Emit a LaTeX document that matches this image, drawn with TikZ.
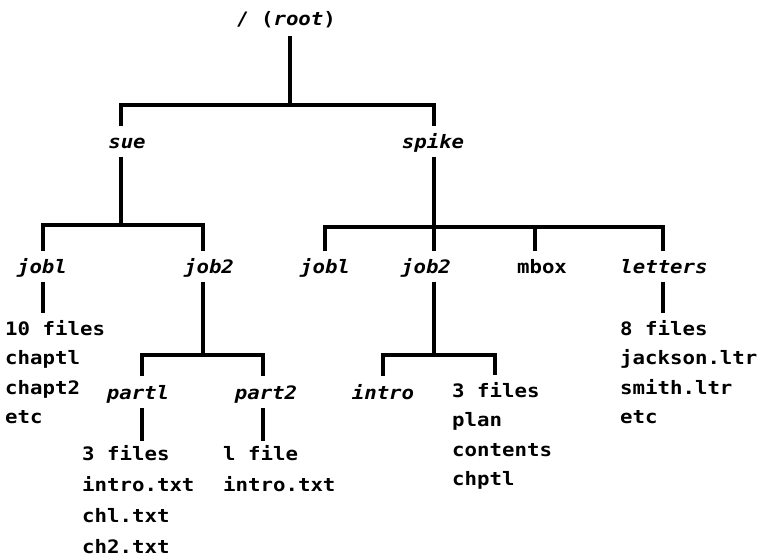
\documentclass[tikz,border=0pt]{standalone}
\usepackage{fontspec}
\setmainfont[FakeStretch=1.12,UprightFont={DejaVu Sans Mono Bold},ItalicFont={DejaVu Sans Mono Bold Oblique},BoldFont={DejaVu Sans Mono Bold}]{DejaVu Sans Mono}
\newcommand\treesz{\fontsize{18.5pt}{22pt}\selectfont}
\begin{document}
\begin{tikzpicture}[x=1pt,y=-1pt,
  tree/.style={line width=4pt,line join=miter,line cap=butt},
  lab/.style={font=\treesz,text height=13.5pt,text depth=0pt,inner xsep=0pt,inner ysep=8.5pt,anchor=base},
  dirlab/.style={lab,font=\treesz\itshape},
  flist/.style={font=\treesz,text height=13.5pt,text depth=0pt,inner xsep=0pt,inner ysep=8.5pt,anchor=base west}]
\useasboundingbox (0,0) rectangle (762,558);
% labels
\node[lab,inner ysep=11pt] (root) at (286,25) {/ ({\itshape root})};
\node[dirlab] (sue) at (127,148) {sue};
\node[dirlab] (spike) at (433,148) {spike};
\node[dirlab] (sj1) at (42,273) {jobl};
\node[dirlab] (sj2) at (209,273) {job2};
\node[dirlab] (pj1) at (325,273) {jobl};
\node[dirlab] (pj2) at (426,273) {job2};
\node[lab] (mbox) at (542,273) {mbox};
\node[dirlab] (letters) at (664,273) {letters};
\node[dirlab,inner ysep=9pt] (part1) at (138,399) {partl};
\node[dirlab,inner ysep=9pt] (part2) at (266,399) {part2};
\node[dirlab,inner ysep=9pt] (intro) at (383,399) {intro};
% file lists
\node[flist] (l1a) at (5,335) {10 files};
\node[flist] (l1b) at (5,364.5) {chaptl};
\node[flist] (l1c) at (5,394) {chapt2};
\node[flist] (l1d) at (5,423.5) {etc};
\node[flist,inner ysep=5pt] (l2a) at (82,460) {3 files};
\node[flist] (l2b) at (82,491) {intro.txt};
\node[flist] (l2c) at (82,522) {chl.txt};
\node[flist] (l2d) at (82,553) {ch2.txt};
\node[flist,inner ysep=5pt] (l3a) at (223,460) {l file};
\node[flist] (l3b) at (223,491) {intro.txt};
\node[flist] (l4a) at (452,397) {3 files};
\node[flist] (l4b) at (452,426.5) {plan};
\node[flist] (l4c) at (452,456) {contents};
\node[flist] (l4d) at (452,485.5) {chptl};
\node[flist] (l5a) at (620,335) {8 files};
\node[flist] (l5b) at (620,364.5) {jackson.ltr};
\node[flist] (l5c) at (620,394) {smith.ltr};
\node[flist] (l5d) at (620,423.5) {etc};
% junction coordinates
\coordinate (rj) at (290,105);
\coordinate (rs) at (121,105);
\coordinate (rp) at (434,105);
\coordinate (sj) at (121,225);
\coordinate (sa) at (43,225);
\coordinate (sb) at (203,225);
\coordinate (pj) at (434,227);
\coordinate (pa) at (325,227);
\coordinate (pm) at (535,227);
\coordinate (pd) at (663,227);
\coordinate (qj) at (203,355);
\coordinate (qa) at (142,355);
\coordinate (qb) at (263,355);
\coordinate (uj) at (434,355);
\coordinate (ua) at (383,355);
\coordinate (ub) at (495,355);
% connectors
\draw[tree] (rj |- root.south) -- (rj);
\draw[tree] (rs |- sue.north) -- (rs) -- (rp) -- (rp |- spike.north);
\draw[tree] (sj |- sue.south) -- (sj);
\draw[tree] (sa |- sj1.north) -- (sa) -- (sb) -- (sb |- sj2.north);
\draw[tree] (pj |- spike.south) -- (pj |- pj2.north);
\draw[tree] (pa |- pj1.north) -- (pa) -- (pd) -- (pd |- letters.north);
\draw[tree] (pm) -- (pm |- mbox.north);
\draw[tree] (sa |- sj1.south) -- (sa |- l1a.north);
\draw[tree] (qj |- sj2.south) -- (qj);
\draw[tree] (qa |- part1.north) -- (qa) -- (qb) -- (qb |- part2.north);
\draw[tree] (qa |- part1.south) -- (qa |- l2a.north);
\draw[tree] (qb |- part2.south) -- (qb |- l3a.north);
\draw[tree] (uj |- pj2.south) -- (uj);
\draw[tree] (ua |- intro.north) -- (ua) -- (ub) -- (ub |- l4a.north);
\draw[tree] (pd |- letters.south) -- (pd |- l5a.north);
\end{tikzpicture}
\end{document}
